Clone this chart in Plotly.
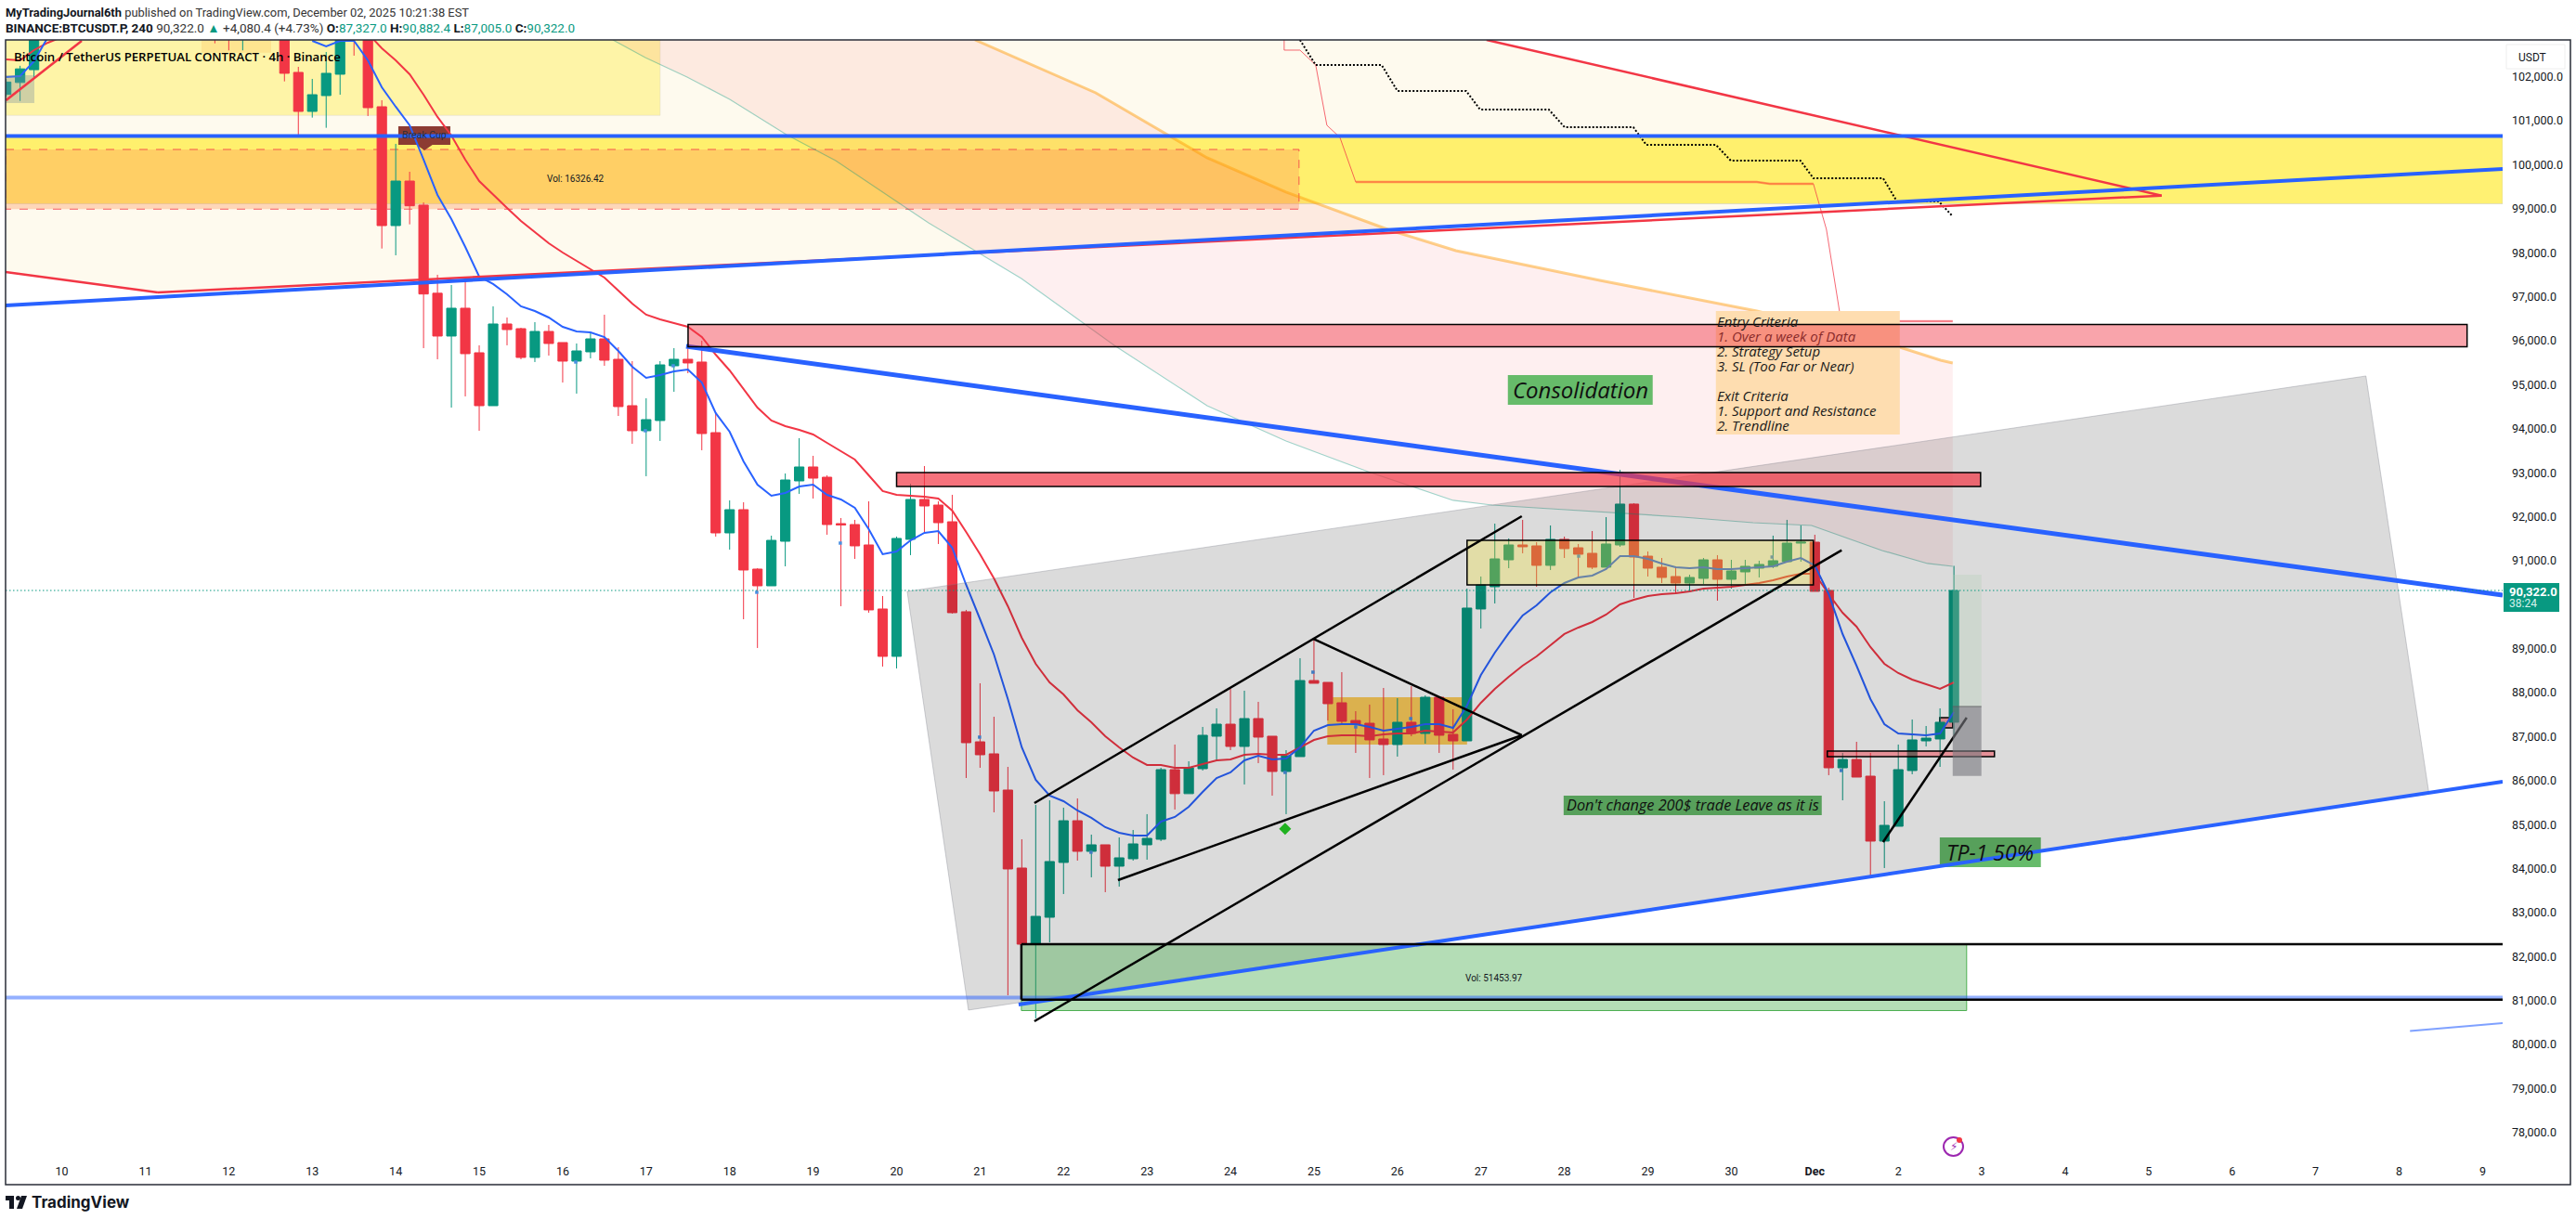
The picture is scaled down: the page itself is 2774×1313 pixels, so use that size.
import pandas as pd
import plotly.graph_objects as go

# --- candles (4h bars) ---
early_times = ["2025-11-09 08:00", "2025-11-09 12:00", "2025-11-09 16:00",
               "2025-11-11 20:00", "2025-11-12 00:00", "2025-11-12 04:00"]
early_open = [101600, 101870, 102160, 103500, 103100, 102900]
early_high = [101950, 102250, 103250, 103700, 103300, 103500]
early_low = [101550, 101450, 101990, 102760, 102600, 102600]
early_close = [101880, 102180, 103000, 103100, 102900, 103300]

main_open = [
    103200, 102100, 101213, 101572, 102058, 103400, 103000, 101319, 98617, 99630,
    99082, 97079, 96106, 96739, 95726, 94523, 96380, 96274, 95620, 96211,
    95958, 95536, 95747, 96042, 95578, 94523, 93953, 94185, 95430, 95578,
    95515, 93910, 91631, 92159, 90808, 90428, 91441, 92813, 93130, 92897,
    91842, 91821, 91357, 89901, 88824, 91484, 92391, 92264, 91884, 89838,
    86882, 86608, 85785, 84012, 82281, 82893, 84139, 85088, 84392, 84540,
    84054, 84223, 84540, 84666, 86249, 85703, 86270, 87009, 87283, 86777,
    87410, 87009, 86207, 86545, 88275, 88233, 87769, 87366, 87304, 86946,
    86819, 87326, 87072, 87895, 87051, 86903, 89901, 90407, 91019, 91357,
    91336, 90893, 91484, 91293, 91167, 90851, 91357, 92286, 91103, 90851,
    90639, 90491, 90597, 91019, 90576, 90745, 90829, 90871, 90977, 91399,
    91420, 90323, 86291, 86481, 86101, 84624, 84962, 86228, 86903, 86946,
    87327]
main_close = [
    102079, 101213, 101593, 102079, 103113, 103000, 101298, 98617, 99630, 99067,
    97062, 96106, 96739, 95705, 94523, 96380, 96253, 95620, 96211, 95937,
    95536, 95768, 96042, 95557, 94502, 93953, 94206, 95451, 95578, 95494,
    93889, 91631, 92159, 90787, 90428, 91462, 92834, 93130, 92876, 91821,
    91810, 91336, 89880, 88824, 91505, 92391, 92243, 91863, 89817, 86861,
    86587, 85764, 83991, 82281, 82914, 84160, 85088, 84392, 84540, 84054,
    84244, 84561, 84687, 86249, 85703, 86291, 87030, 87283, 86777, 87410,
    86988, 86207, 86566, 88275, 88212, 87748, 87347, 87283, 86925, 86819,
    87326, 87072, 87895, 87030, 86903, 89922, 90449, 91040, 91357, 91315,
    90893, 91484, 91273, 91146, 90851, 91378, 92286, 91082, 90829, 90618,
    90491, 90618, 91019, 90576, 90766, 90871, 90914, 90998, 91399, 91420,
    90302, 86291, 86481, 86080, 84624, 84983, 86249, 86925, 86966, 87326,
    90322]
main_high = [
    103500, 102226, 101952, 102564, 103350, 103600, 103200, 101467, 100475, 99841,
    99145, 97499, 97267, 97393, 95895, 96781, 96528, 96295, 96422, 96359,
    95958, 95937, 96169, 96591, 95852, 95536, 94691, 95536, 95831, 95937,
    96000, 94375, 92370, 92328, 90829, 91568, 92982, 93784, 93383, 92940,
    91969, 91927, 92349, 90196, 91547, 92750, 93151, 92349, 92497, 89880,
    88212, 87452, 86312, 84666, 85447, 85552, 85384, 85595, 84772, 84540,
    84708, 84877, 85237, 86291, 86819, 86439, 87220, 87642, 88085, 88043,
    87790, 87009, 86692, 88782, 89204, 88233, 88465, 87578, 87727, 88106,
    87874, 88148, 87937, 87895, 87621, 90365, 90639, 91842, 91505, 91927,
    91420, 91800, 91547, 91378, 91673, 91990, 93065, 92307, 91209, 91061,
    90871, 90681, 91061, 91125, 91019, 91019, 90998, 91568, 91927, 91800,
    91589, 90386, 86629, 86882, 86629, 85531, 86819, 87389, 87241, 87642,
    90882]
main_low = [
    101895, 100686, 101072, 100840, 101593, 102480, 101108, 98096, 97942, 98645,
    95831, 95578, 94480, 94734, 93953, 94523, 95895, 95578, 95515, 95662,
    95050, 94797, 95599, 95430, 94290, 93657, 92919, 93721, 94839, 95261,
    93510, 91547, 91251, 89668, 89014, 90428, 90871, 92518, 92412, 91589,
    89964, 91040, 89817, 88592, 88550, 91125, 91631, 91378, 89796, 86059,
    86291, 85278, 81120, 82218, 80593, 82323, 83421, 84181, 83801, 83463,
    83590, 84181, 84202, 84624, 85342, 85703, 86228, 86439, 86692, 85912,
    86397, 85658, 85237, 86545, 88212, 87366, 87283, 86629, 86059, 86123,
    86545, 87009, 86840, 86629, 86249, 86903, 89457, 90027, 90829, 91167,
    90407, 90787, 91061, 90618, 90808, 90851, 91315, 90154, 90639, 90491,
    90259, 90280, 90470, 90090, 90365, 90470, 90618, 90829, 90956, 90977,
    90302, 86123, 85552, 86080, 83843, 84012, 84962, 86144, 86777, 86312,
    87005]

# --- moving averages ---
fast_ma = [
    None, None, 102817, 102691, 102817, 102817, 102374, 101762, 101319, 100897,
    100116, 99314, 98765, 98132, 97456, 97288, 97055, 96781, 96675, 96528,
    96317, 96211, 96190, 96084, 95768, 95409, 95156, 95219, 95304, 95346,
    95050, 94354, 93932, 93256, 92728, 92475, 92539, 92686, 92728, 92496,
    92391, 92201, 91716, 91146, 91209, 91462, 91631, 91673, 91293, 90449,
    89668, 88866, 87853, 86756, 86017, 85658, 85531, 85320, 85152, 84941,
    84814, 84751, 84751, 85067, 85173, 85405, 85743, 86059, 86186, 86460,
    86566, 86481, 86502, 86756, 87136, 87262, 87283, 87283, 87220, 87136,
    87178, 87220, 87283, 87283, 87199, 87706, 88402, 88909, 89352, 89753,
    89985, 90281, 90492, 90618, 90660, 90808, 91103, 91103, 91040, 90935,
    90850, 90829, 90850, 90808, 90808, 90829, 90850, 90871, 90977, 91061,
    90892, 90238, 89330, 88613, 87853, 87283, 87072, 87051, 87030, 87072,
    87557]
slow_ma = [
    None, None, None, None, None, None, 102986, 102648, 102374, 102058,
    101593, 101087, 100665, 100116, 99630, 99314, 99018, 98723, 98470, 98216,
    98005, 97815, 97625, 97435, 97140, 96844, 96591, 96485, 96401, 96317,
    96084, 95683, 95325, 94903, 94480, 94185, 94058, 93974, 93868, 93678,
    93488, 93298, 92940, 92581, 92497, 92476, 92454, 92412, 92138, 91652,
    91146, 90597, 89964, 89246, 88655, 88233, 87959, 87600, 87326, 87009,
    86756, 86524, 86355, 86355, 86291, 86291, 86376, 86460, 86481, 86587,
    86608, 86587, 86587, 86756, 86924, 87009, 87030, 87030, 87009, 87051,
    87072, 87072, 87136, 87115, 87094, 87389, 87769, 88085, 88360, 88613,
    88824, 89078, 89331, 89479, 89605, 89774, 90006, 90111, 90196, 90238,
    90259, 90302, 90365, 90386, 90407, 90449, 90492, 90555, 90639, 90703,
    90703, 90238, 89816, 89499, 89035, 88655, 88444, 88296, 88191, 88085,
    88233]
early_fast_times = ["2025-11-09 08:00", "2025-11-09 12:00", "2025-11-09 16:00", "2025-11-09 20:00"]
early_fast = [101994, 102015, 102353, 102902]
early_slow_times = ["2025-11-09 08:00", "2025-11-09 12:00", "2025-11-09 16:00", "2025-11-09 20:00", "2025-11-10 00:00"]
early_slow = [102395, 102374, 102606, 102775, 102902]

# --- band and step lines, x in days after Nov 10 ---
upper_band_days = [10.94, 12.386, 13.72, 14.665, 15.911, 16.701, 18.425, 20.305, 21.984, 22.507, 22.652]
upper_band = [102838, 101635, 100158, 99377, 98512, 98047, 97372, 96676, 95873, 95557, 95494]
lower_band_days = [6.601, 6.99, 7.49, 8.001, 8.68, 9.27, 10.382, 11.495, 12.608, 13.72, 14.665,
                   15.677, 16.667, 17.134, 17.835, 18.525, 19.415, 20.26, 20.961, 21.806, 22.351, 22.652]
lower_band = [102838, 102437, 101994, 101488, 100686, 100095, 98681, 97414, 95894, 94523, 93721,
              93003, 92370, 92264, 92180, 92096, 91990, 91863, 91800, 91230, 90935, 90871]
stop_days = [14.643, 14.643, 14.832, 15.021, 15.155, 15.311, 15.5, 20.305, 20.461, 20.983, 21.139, 21.295, 21.34, 22.652]
stop_line = [102838, 102606, 102606, 102268, 100897, 100622, 99609, 99609, 99567, 99567, 98533, 96676, 96443, 96443]
flat_days = [15.5, 20.305, 20.461, 20.983]
flat_line = [99609, 99609, 99567, 99567]
flat2_days = [21.984, 22.652]
flat2_line = [96443, 96443]
step_days = [14.832, 15.021, 15.811, 16.0, 16.823, 16.99, 17.813, 18.002, 18.825, 18.981, 19.815,
             19.993, 20.827, 20.983, 21.818, 21.984, 22.485, 22.652]
step_line = [102838, 102268, 102268, 101678, 101678, 101256, 101256, 100855, 100855, 100453, 100453,
             100095, 100095, 99694, 99694, 99166, 99166, 98828]

dot_days = [6.156, 6.99, 7.324, 8.325, 9.326, 10.994, 12.329, 14.654, 14.988, 15.5, 16.159, 18.171, 20.488, 21.316]
dot_prices = [95515, 93953, 95430, 90281, 91399, 86988, 84371, 86186, 88465, 87220, 87410, 91103, 91082, 86229]
diamond_days = [14.654]
diamond_prices = [84905]

# --- drawings ---
cream_days = [-0.674, 1.15, 25.155, 17.068, -0.674]
cream_prices = [97562, 97098, 99299, 102838, 102838]
gray_days = [10.127, 10.861, 28.358, 27.602]
gray_prices = [90301, 80783, 85700, 95198]
tag_days = [4.031, 4.654, 4.654, 4.44, 4.343, 4.25, 4.031]
tag_prices = [100876, 100876, 100453, 100453, 100327, 100453, 100453]

top_yellow_days, top_yellow_prices = [-0.674, 7.168], [102838, 101123]
corner_days, corner_prices = [-0.674, -0.329], [102036, 101403]
top_orange_days, top_orange_prices = [1.673, 2.507], [102838, 102549]
band_days, band_prices = [-0.674, 29.24], [100643, 99113]
vol_box_days, vol_box_prices = [-0.674, 14.821], [100348, 98991]
gold_days, gold_prices = [15.16, 16.834], [87895, 86819]
green_days, green_prices = [11.495, 22.819], [82281, 80772]
red1_days, red1_prices = [7.502, 28.814], [96369, 95863]
red2_days, red2_prices = [10.0, 22.986], [93003, 92687]
red3_days, red3_prices = [21.15, 23.152], [86671, 86544]
red4_days, red4_prices = [22.497, 22.652], [87431, 87199]
cons_days, cons_prices = [16.834, 20.983], [91463, 90449]
notes_days, notes_prices = [19.815, 22.018], [96676, 93868]
label1_days, label1_prices = [17.323, 19.058], [95219, 94544]
label2_days, label2_prices = [17.991, 21.083], [85658, 85215]
label3_days, label3_prices = [22.497, 23.708], [84708, 84033]
target_days, target_prices = [22.652, 22.996], [90681, 87685]
risk_days, risk_prices = [22.652, 22.996], [87685, 86108]

hline_price = 100654
hline2_price = 81067
black_hi, black_lo = 82281, 81021
black_start, right_day, left_day = 11.495, 29.24, -0.674

red_lines = [([-0.674, 1.15, 25.155, 17.068], [97562, 97098, 99299, 102838]),
             ([-0.667, 0.238], [101467, 102817])]
blue_lines = [([-0.674, 29.24], [96802, 99905], 4),
              ([7.479, 29.24], [95873, 90217], 5),
              ([11.462, 29.24], [80909, 85975], 4)]
black_lines = [([11.651, 17.49], [85489, 92011]),
               ([14.988, 17.49], [89225, 87030]),
               ([12.652, 17.49], [83738, 87030]),
               ([11.651, 21.322], [80529, 91237]),
               ([21.818, 22.819], [84603, 87431])]
small_blue_days, small_blue_prices = [28.13, 29.24], [80308, 80487]

note_lines = ["Entry Criteria", "<span style='color:#8a2b2b'>1. Over a week of Data</span>", "2. Strategy Setup",
              "3. SL (Too Far or Near)", "Exit Criteria", "1. Support and Resistance", "2. Trendline"]
note_prices = [96443, 96106, 95768, 95430, 94755, 94417, 94080]

price_ticks = [102000, 101000, 100000, 99000, 98000, 97000, 96000, 95000, 94000, 93000, 92000, 91000,
               89000, 88000, 87000, 86000, 85000, 84000, 83000, 82000, 81000, 80000, 79000, 78000]
price_labels = [f"{p:,.1f}" for p in price_ticks]
date_ticks = pd.date_range("2025-11-10", "2025-12-09", freq="D")
date_labels = [str(d.day) for d in date_ticks]
date_labels[21] = "<b>Dec</b>"

W, H = 2774, 1313
PANE_L, PANE_R, PANE_T, PANE_B = 6, 2695, 43, 1242
Y_RANGE = [77532, 102838]
DAY0 = pd.Timestamp("2025-11-10")

RED, TEAL, BLUE = "#F23645", "#089981", "#2962FF"


def t(d):
    return DAY0 + pd.Timedelta(days=d)


def ts(days):
    return [t(d) for d in days]


def px(x):
    return x / W


def py(y):
    return 1 - y / H


fig = go.Figure()

candle_times = list(pd.to_datetime(early_times)) + list(pd.date_range("2025-11-12 16:00", periods=len(main_open), freq="4h"))
main_times = candle_times[6:]

fig.add_trace(go.Candlestick(
    x=candle_times,
    open=early_open + main_open,
    high=early_high + main_high,
    low=early_low + main_low,
    close=early_close + main_close,
    increasing=dict(line=dict(color=TEAL, width=1), fillcolor=TEAL),
    decreasing=dict(line=dict(color=RED, width=1), fillcolor=RED),
    showlegend=False,
))

# band fill goes in as a plain polygon
fig.add_trace(go.Scatter(
    x=ts(lower_band_days) + ts(upper_band_days[::-1]),
    y=lower_band + upper_band[::-1],
    mode="lines", line=dict(width=0), fill="toself",
    fillcolor="rgba(242,54,69,0.08)", showlegend=False,
))
fig.add_trace(go.Scatter(x=ts(upper_band_days), y=upper_band, mode="lines",
                         line=dict(color="rgba(255,152,0,0.45)", width=3), showlegend=False))
fig.add_trace(go.Scatter(x=ts(lower_band_days), y=lower_band, mode="lines",
                         line=dict(color="rgba(8,153,129,0.38)", width=1.2), showlegend=False))

fig.add_trace(go.Scatter(x=ts(stop_days), y=stop_line, mode="lines",
                         line=dict(color="rgba(242,54,69,0.75)", width=1), showlegend=False))
fig.add_trace(go.Scatter(x=ts(flat_days), y=flat_line, mode="lines",
                         line=dict(color="rgba(255,120,60,0.7)", width=2.5), showlegend=False))
fig.add_trace(go.Scatter(x=ts(flat2_days), y=flat2_line, mode="lines",
                         line=dict(color="rgba(242,54,69,0.4)", width=2.5), showlegend=False))
fig.add_trace(go.Scatter(x=ts(step_days), y=step_line, mode="lines",
                         line=dict(color="#000000", width=2, dash="2px 2px"), showlegend=False))

# MAs
fig.add_trace(go.Scatter(x=main_times, y=slow_ma, mode="lines", line=dict(color=RED, width=2), showlegend=False))
fig.add_trace(go.Scatter(x=pd.to_datetime(early_slow_times), y=early_slow, mode="lines", line=dict(color=RED, width=2), showlegend=False))
fig.add_trace(go.Scatter(x=main_times, y=fast_ma, mode="lines", line=dict(color=BLUE, width=2), showlegend=False))
fig.add_trace(go.Scatter(x=pd.to_datetime(early_fast_times), y=early_fast, mode="lines", line=dict(color=BLUE, width=2), showlegend=False))

fig.add_trace(go.Scatter(x=ts(dot_days), y=dot_prices, mode="markers",
                         marker=dict(color="#4a90e2", size=3.5, symbol="square"), showlegend=False))
fig.add_trace(go.Scatter(x=ts(diamond_days), y=diamond_prices, mode="markers",
                         marker=dict(color="#26CF26", size=10, symbol="diamond"), showlegend=False))


def rect(days, prices, fill, layer="above", line=None):
    fig.add_shape(type="rect", xref="x", yref="y", x0=t(days[0]), x1=t(days[1]), y0=prices[0], y1=prices[1],
                  fillcolor=fill, line=line or dict(width=0), layer=layer)


def poly(days, prices, fill, layer="above", line=None):
    pts = [f"{t(d).strftime('%Y-%m-%d_%H:%M:%S')},{p}" for d, p in zip(days, prices)]
    fig.add_shape(type="path", xref="x", yref="y", path="M " + " L ".join(pts) + " Z",
                  fillcolor=fill, line=line or dict(width=0), layer=layer)


def seg(days, prices, color, width, layer="above"):
    for i in range(len(days) - 1):
        fig.add_shape(type="line", xref="x", yref="y", x0=t(days[i]), x1=t(days[i + 1]), y0=prices[i], y1=prices[i + 1],
                      line=dict(color=color, width=width), layer=layer)


box_line = dict(color="#000000", width=1.5)

# under the candles
poly(cream_days, cream_prices, "#FEFAEE", layer="below")
rect(top_yellow_days, top_yellow_prices, "rgba(255,235,59,0.4)", layer="below", line=dict(color="rgba(200,200,200,0.3)", width=1))
rect(top_orange_days, top_orange_prices, "rgba(255,183,77,0.25)", layer="below")
rect(band_days, band_prices, "rgba(255,235,59,0.72)", layer="below", line=dict(color="rgba(200,200,200,0.5)", width=1))
rect(vol_box_days, vol_box_prices, "rgba(255,150,90,0.36)", layer="below", line=dict(color="rgba(242,54,69,0.8)", width=1, dash="dash"))
rect(gold_days, gold_prices, "#FFCE5B", layer="below")
rect(red4_days, red4_prices, "#F7A0A6", layer="below", line=box_line)
poly(tag_days, tag_prices, "#8C3B32", layer="below")

# over the candles
rect(corner_days, corner_prices, "rgba(120,140,160,0.35)")
rect(notes_days, notes_prices, "#FEDDB0")
rect(label1_days, label1_prices, "#66BB6A")
rect(label2_days, label2_prices, "#66BB6A")
rect(label3_days, label3_prices, "#66BB6A")
poly(gray_days, gray_prices, "rgba(0,0,0,0.14)", line=dict(color="rgba(120,123,134,0.35)", width=1))
rect(green_days, green_prices, "rgba(76,175,80,0.42)", line=dict(color="#4CAF50", width=1))
for s in red_lines:
    seg(s[0], s[1], RED, 2.5)
seg([left_day, right_day], [hline2_price, hline2_price], "rgba(41,98,255,0.5)", 4)
seg([left_day, right_day], [hline_price, hline_price], BLUE, 4)
for s in blue_lines:
    seg(s[0], s[1], BLUE, s[2])
seg(small_blue_days, small_blue_prices, "rgba(41,98,255,0.6)", 2)

seg([black_start, right_day], [black_hi, black_hi], "#000000", 2.5)
seg([black_start, right_day], [black_lo, black_lo], "#000000", 2.5)
seg([black_start, black_start], [black_hi, black_lo], "#000000", 2.5)

rect(red1_days, red1_prices, "rgba(242,54,69,0.45)", line=box_line)
rect(red2_days, red2_prices, "rgba(242,54,69,0.7)", line=box_line)
rect(red3_days, red3_prices, "rgba(242,54,69,0.45)", line=box_line)
rect(cons_days, cons_prices, "rgba(240,225,60,0.33)", line=box_line)
for s in black_lines:
    seg(s[0], s[1], "#000000", 2.5)

rect(target_days, target_prices, "rgba(176,204,180,0.3)")
rect(risk_days, risk_prices, "rgba(121,121,128,0.61)")
seg(target_days, [target_prices[1], target_prices[1]], "rgba(90,90,95,0.8)", 1)

# last price, frame and pane furniture (paper coords)
def box_px(x0, y0, x1, y1, **kw):
    fig.add_shape(type="rect", xref="paper", yref="paper", x0=px(x0), x1=px(x1), y0=py(y1), y1=py(y0), **kw)


fig.add_shape(type="line", xref="x", yref="y", x0=t(left_day), x1=t(right_day), y0=90322, y1=90322,
              line=dict(color=TEAL, width=1, dash="1.5px 2.5px"), layer="above")
box_px(6, 43, 2768, 1276, line=dict(color="#2a2e39", width=1.5), fillcolor="rgba(0,0,0,0)")
box_px(2696, 628, 2756, 659, line=dict(width=0), fillcolor=TEAL)
box_px(2699, 48, 2762, 74, line=dict(color="#eeeeee", width=1), fillcolor="#ffffff")

# bolt badge
fig.add_shape(type="circle", xref="paper", yref="paper", x0=px(2093), x1=px(2114), y0=py(1245), y1=py(1225),
              line=dict(color="#9C27B0", width=2), fillcolor="#ffffff")
fig.add_shape(type="circle", xref="paper", yref="paper", x0=px(2107), x1=px(2113), y0=py(1231), y1=py(1225),
              line=dict(width=0), fillcolor="#F23645")

# TradingView mark
fig.add_shape(type="path", xref="paper", yref="paper", line=dict(width=0), fillcolor="#131722",
              path=f"M {px(6)},{py(1288)} L {px(15)},{py(1288)} L {px(15)},{py(1302)} L {px(10)},{py(1302)} L {px(10)},{py(1293)} L {px(6)},{py(1293)} Z")
fig.add_shape(type="path", xref="paper", yref="paper", line=dict(width=0), fillcolor="#131722",
              path=f"M {px(23)},{py(1288)} L {px(29)},{py(1288)} L {px(24)},{py(1302)} L {px(18)},{py(1302)} Z")
fig.add_shape(type="circle", xref="paper", yref="paper", x0=px(17), x1=px(22), y0=py(1293), y1=py(1288),
              line=dict(width=0), fillcolor="#131722")


def note(x, y, text, size=13, color="#131722", family="Roboto", anchor="left", xref="paper", yref="paper", weight=None):
    fig.add_annotation(x=x, y=y, xref=xref, yref=yref, text=text, showarrow=False, xanchor=anchor, yanchor="middle",
                       font=dict(size=size, color=color, family=family, weight=weight), align="left", borderpad=0, borderwidth=0)


up = f"<span style='color:{TEAL}'>"
note(px(6), py(13), "<b>MyTradingJournal6th</b> <span style='color:#333'>published on TradingView.com, December 02, 2025 10:21:38 EST</span>", size=12.9)
note(px(6), py(30), f"<b>BINANCE:BTCUSDT.P, 240</b> <span style='color:#333'>90,322.0</span> {up}▲</span> <span style='color:#333'>+4,080.4 (+4.73%)</span> "
     f"<b>O:</b>{up}87,327.0</span> <b>H:</b>{up}90,882.4</span> <b>L:</b>{up}87,005.0</span> <b>C:</b>{up}90,322.0</span>", size=13.5)
note(px(15), py(61), "Bitcoin / TetherUS PERPETUAL CONTRACT · 4h · Binance", size=13.2, family="Open Sans", color="#000000", weight=600)
note(px(2712), py(62), "USDT", size=12)
note(px(2702), py(637), "<b>90,322.0</b>", size=13, color="#ffffff")
note(px(2702), py(650), "38:24", size=12, color="#d6f2ec")
note(px(34), py(1295), "<b>TradingView</b>", size=17, family="Inter")
note(px(2103.5), py(1235), "⚡", size=12, color="#9C27B0", anchor="center", family="DejaVu Sans")

note(t(6.156), 99673, "Vol: 16326.42", size=10, anchor="center", xref="x", yref="y")
note(t(17.157), 81521, "Vol: 51453.97", size=10, anchor="center", xref="x", yref="y")
note(t(4.343), 100665, "Break Cup", size=10.5, color="#2a2e39", anchor="center", xref="x", yref="y")
note(t(18.192), 94882, "<i>Consolidation</i>", size=24, family="Open Sans", color="#101010", anchor="center", xref="x", yref="y")
note(t(19.537), 85437, "<i>Don't change 200$ trade Leave as it is</i>", size=16.3, family="Open Sans", color="#101010", anchor="center", xref="x", yref="y")
note(t(23.10), 84370, "<i>TP-1 50%</i>", size=23, family="Open Sans", color="#101010", anchor="center", xref="x", yref="y")
for line, price in zip(note_lines, note_prices):
    note(t(19.826), price, f"<i>{line}</i>", size=15, family="Open Sans", color="#1a1a1a", xref="x", yref="y")

fig.update_layout(
    width=W, height=H,
    margin=dict(l=0, r=0, t=0, b=0),
    paper_bgcolor="#ffffff",
    plot_bgcolor="#ffffff",
    showlegend=False,
    hovermode=False,
    boxgap=0.03,
    boxgroupgap=0.3,
    font=dict(family="Roboto", color="#131722", size=13),
    xaxis=dict(
        domain=[px(PANE_L), px(PANE_R)],
        type="date",
        range=[t(-0.674), t(29.24)],
        rangeslider=dict(visible=False),
        showgrid=False, zeroline=False, showline=False,
        tickmode="array", tickvals=list(date_ticks), ticktext=date_labels,
        ticks="", ticklabelstandoff=10, tickfont=dict(size=12.5, color="#131722"),
    ),
    yaxis=dict(
        domain=[py(PANE_B), py(PANE_T)],
        range=Y_RANGE,
        side="right",
        showgrid=False, zeroline=False, showline=False,
        tickmode="array", tickvals=price_ticks, ticktext=price_labels,
        ticks="", ticklabelstandoff=9, tickfont=dict(size=12.5, color="#131722"),
    ),
)

fig.write_html("out.html", config=dict(displayModeBar=False),
               post_script="document.body.style.margin='0';document.body.style.overflow='hidden';")
